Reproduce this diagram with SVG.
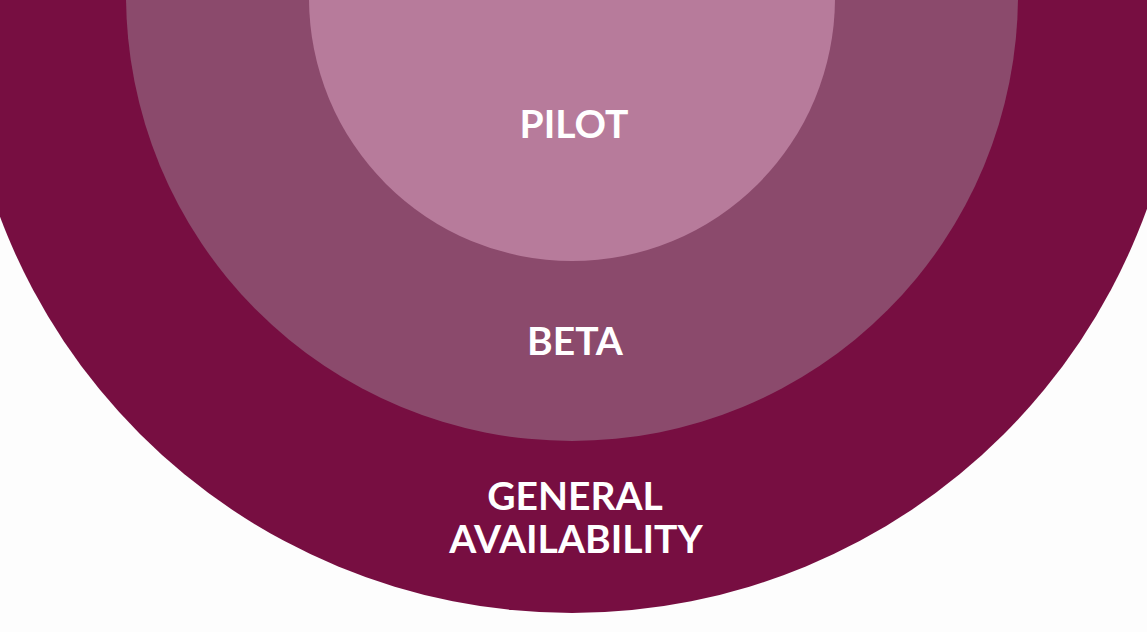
<svg xmlns="http://www.w3.org/2000/svg" width="1147" height="632" viewBox="0 0 1147 632">
<style>
.lbl{font-family:Lato,"Open Sans","Liberation Sans",sans-serif;font-weight:700;font-size:39px;fill:#ffffff;text-anchor:middle}
</style>
<rect width="1147" height="632" fill="#fdfdfd"/>
<g id="general-availability">
<circle cx="572" cy="2" r="611" fill="#770e41"/>
<text class="lbl" x="575" y="510">GENERAL</text>
<text class="lbl" x="576" y="553">AVAILABILITY</text>
</g>
<g id="beta">
<circle cx="572" cy="-5" r="446" fill="#8b4a6c"/>
<text class="lbl" x="575" y="355">BETA</text>
</g>
<g id="pilot">
<circle cx="572" cy="-2" r="263" fill="#b77b9b"/>
<text class="lbl" x="574" y="138">PILOT</text>
</g>
<g id="connectors"/>
</svg>
